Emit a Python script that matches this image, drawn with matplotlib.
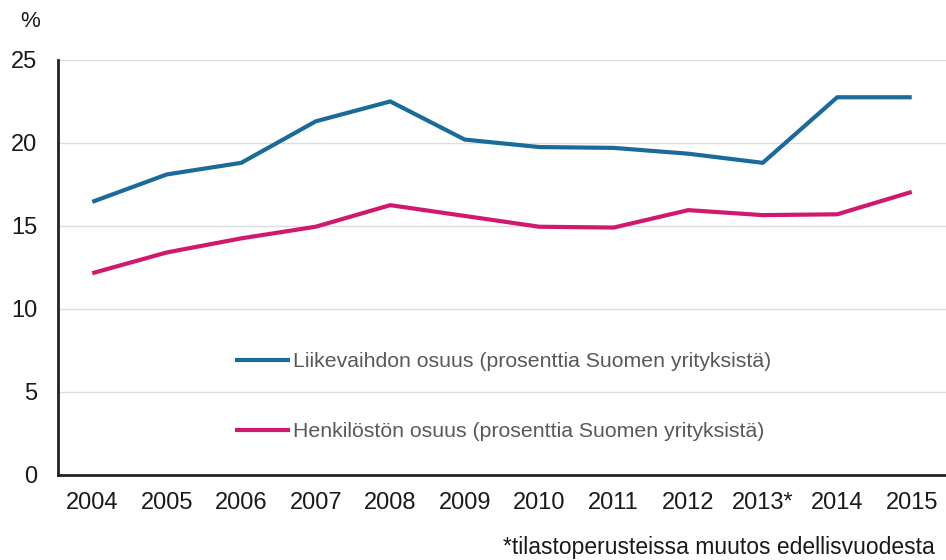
import numpy as np
import matplotlib.pyplot as plt

plt.rcParams['font.family'] = ['Liberation Sans', 'DejaVu Sans']

years = ['2004', '2005', '2006', '2007', '2008', '2009', '2010',
         '2011', '2012', '2013*', '2014', '2015']
turnover = [16.45, 18.1, 18.8, 21.3, 22.5, 20.2, 19.75, 19.7, 19.35, 18.8, 22.75, 22.75]
staff = [12.15, 13.4, 14.25, 14.95, 16.25, 15.6, 14.95, 14.9, 15.95, 15.65, 15.7, 17.05]

label_turnover = 'Liikevaihdon osuus (prosenttia Suomen yrityksistä)'
label_staff = 'Henkilöstön osuus (prosenttia Suomen yrityksistä)'
footnote = '*tilastoperusteissa muutos edellisvuodesta'

blue = '#1A6A9A'
pink = '#D0186E'

fig = plt.figure(figsize=(9.46, 5.6), dpi=100)
ax = fig.add_axes([0.0613, 0.152, 0.9387, 0.741])

x = np.arange(len(years))
ax.plot(x, turnover, color=blue, lw=3.0, label=label_turnover, solid_capstyle='butt')
ax.plot(x, staff, color=pink, lw=3.0, label=label_staff, solid_capstyle='butt')

ax.set_xlim(-0.46, 11.46)
ax.set_ylim(0, 25)
ax.set_yticks(np.arange(0, 26, 5))
ax.set_xticks(x)
ax.set_xticklabels(years)
ax.tick_params(axis='both', length=0, labelsize=17, colors='#1a1a1a')
ax.tick_params(axis='y', pad=15)
ax.tick_params(axis='x', pad=12)

ax.grid(axis='y', color='#dddddd', lw=1.0)
ax.set_axisbelow(True)
for side in ['top', 'right']:
    ax.spines[side].set_visible(False)
for side in ['left', 'bottom']:
    ax.spines[side].set_color('#222222')
    ax.spines[side].set_linewidth(2.0)

leg = ax.legend(loc='center left', bbox_to_anchor=(0.199, 0.189), frameon=False,
                fontsize=15.3, labelspacing=2.4, handlelength=2.6,
                handletextpad=0.12, borderpad=0, borderaxespad=0)
for t in leg.get_texts():
    t.set_color('#595959')

fig.text(0.032, 0.962, '%', fontsize=16, ha='center', va='center', color='#1a1a1a')
fig.text(0.988, 0.023, footnote, fontsize=16.5, ha='right', va='center', color='#1a1a1a')

fig.savefig('out.png', dpi=100)
